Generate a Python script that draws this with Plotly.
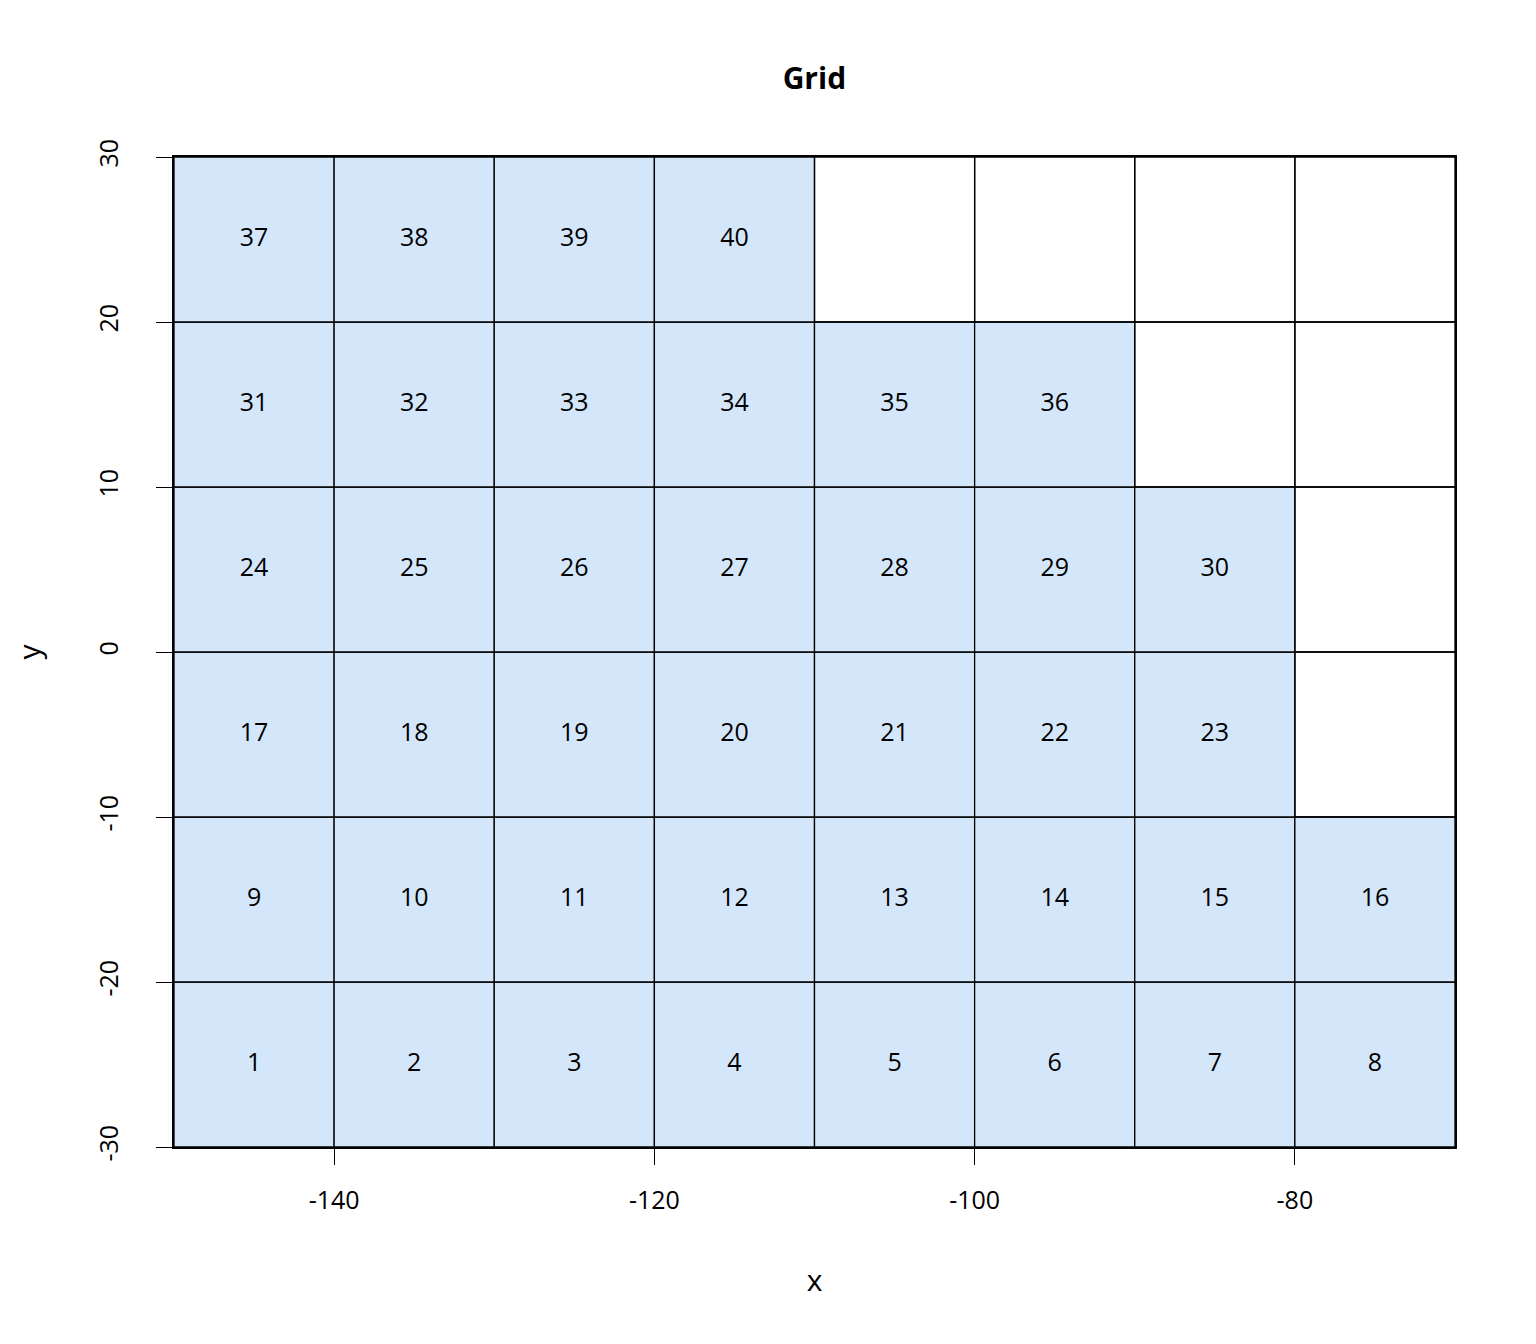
import plotly.graph_objects as go

x_edges = [-150, -140, -130, -120, -110, -100, -90, -80, -70]
y_edges = [-30, -20, -10, 0, 10, 20, 30]
row_counts = [8, 8, 7, 7, 6, 4]  # filled cells per row, bottom to top
x_ticks = [-140, -120, -100, -80]
y_ticks = [-30, -20, -10, 0, 10, 20, 30]
fill = "#D4E6FA"

fig = go.Figure()
label_x, label_y, label_t = [], [], []
n = 1
for r, cnt in enumerate(row_counts):
    y0, y1 = y_edges[r], y_edges[r + 1]
    for c in range(len(x_edges) - 1):
        x0, x1 = x_edges[c], x_edges[c + 1]
        filled = c < cnt
        fig.add_trace(go.Scatter(x=[x0, x1, x1, x0, x0], y=[y0, y0, y1, y1, y0],
                                 mode="lines", fill="toself" if filled else None,
                                 fillcolor=fill, line=dict(color="black", width=1.3),
                                 hoverinfo="skip", showlegend=False))
        if filled:
            label_x.append((x0 + x1) / 2); label_y.append((y0 + y1) / 2); label_t.append(str(n)); n += 1

fig.add_trace(go.Scatter(x=label_x, y=label_y, text=label_t, mode="text",
                         textfont=dict(size=25, color="black"), showlegend=False))

fig.update_layout(
    width=1536, height=1344, paper_bgcolor="white", plot_bgcolor="white",
    margin=dict(l=149, r=89, t=149, b=205),
    font=dict(family="Open Sans", size=25, color="black"),
    title=dict(text="<b>Grid</b>", x=0.525, xanchor="center", y=0.955, font=dict(size=30)),
    xaxis=dict(range=[-150, -70], tickvals=x_ticks, ticktext=[str(v) for v in x_ticks],
               showgrid=False, zeroline=False,
               showline=True, linecolor="black", linewidth=2, mirror=True,
               ticks="outside", ticklen=16, tickcolor="black", tickwidth=1.3,
               ticklabelstandoff=14,
               title=dict(text="x", standoff=55)),
    yaxis=dict(range=[-30, 30], tickvals=y_ticks, ticktext=[str(v) for v in y_ticks],
               showgrid=False, zeroline=False,
               showline=True, linecolor="black", linewidth=2, mirror=True,
               ticks="outside", ticklen=16, tickcolor="black", tickwidth=1.3,
               ticklabelstandoff=28,
               tickangle=-90, title=dict(text="y", standoff=50)),
)
fig.write_html("out.html")
